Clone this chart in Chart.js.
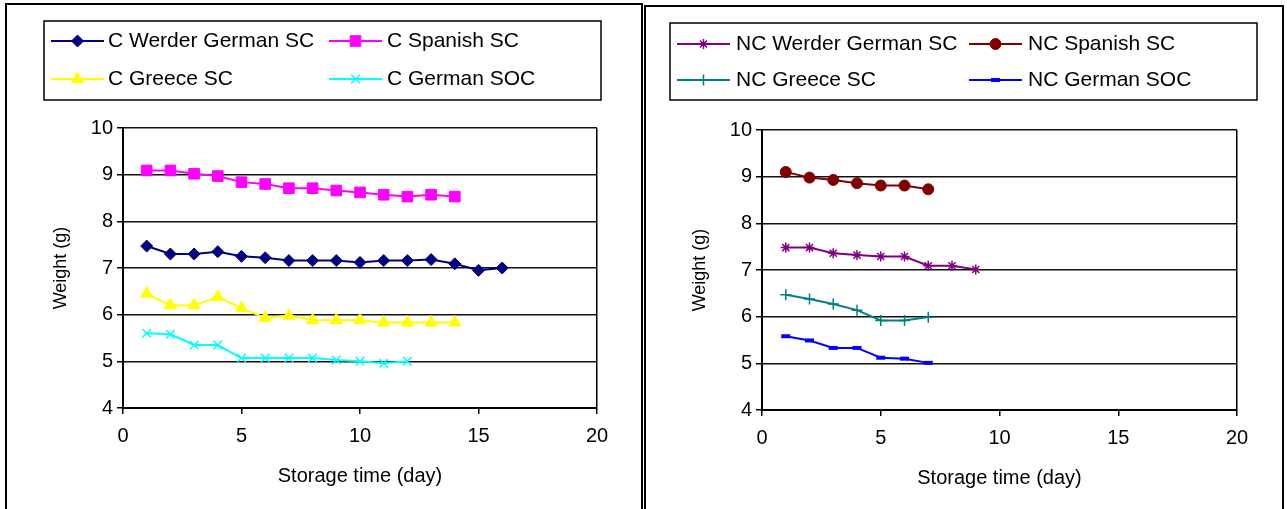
<!DOCTYPE html>
<html>
<head>
<meta charset="utf-8">
<title>Weight during storage</title>
<script src="https://cdn.jsdelivr.net/npm/chart.js@4.4.1/dist/chart.umd.min.js"></script>
<style>
  html, body { margin: 0; padding: 0; background: #fff; overflow: hidden; }
  body { width: 1287px; height: 509px; position: relative; }
  .panel { position: absolute; border: 2px solid #000; border-bottom: none; box-sizing: border-box; }
  #panel-c  { left: 5px;   top: 3px; width: 638px; height: 530px; }
  #panel-nc { left: 644px; top: 5px; width: 640px; height: 530px; }
  canvas { position: absolute; top: 0; }
  #chart-c  { left: 0; }
  #chart-nc { left: 643px; }
</style>
</head>
<body>
<div class="panel" id="panel-c"></div>
<div class="panel" id="panel-nc"></div>
<canvas id="chart-c" width="643" height="509"></canvas>
<canvas id="chart-nc" width="644" height="509"></canvas>
<script>
// --- data ---
const storageDays = [1, 2, 3, 4, 5, 6, 7, 8, 9, 10, 11, 12, 13, 14, 15, 16];
const xTickValues = [0, 5, 10, 15, 20];
const yTickValues = [4, 5, 6, 7, 8, 9, 10];

// C series
const cWerderGerman = [7.47, 7.3, 7.3, 7.35, 7.25, 7.22, 7.16, 7.16, 7.16, 7.12, 7.16, 7.16, 7.18, 7.09, 6.95, 7.0];
const cSpanish      = [9.09, 9.09, 9.02, 8.97, 8.84, 8.8, 8.71, 8.71, 8.66, 8.62, 8.57, 8.53, 8.57, 8.53];
const cGreece       = [6.45, 6.2, 6.2, 6.38, 6.14, 5.93, 5.98, 5.88, 5.88, 5.88, 5.83, 5.83, 5.83, 5.83];
const cGermanSOC    = [5.6, 5.58, 5.35, 5.35, 5.07, 5.07, 5.07, 5.07, 5.03, 5.0, 4.96, 5.0];

// NC series
const ncWerderGerman = [7.48, 7.48, 7.36, 7.32, 7.29, 7.29, 7.09, 7.09, 7.01];
const ncSpanish      = [9.1, 8.98, 8.93, 8.86, 8.81, 8.81, 8.73];
const ncGreece       = [6.47, 6.38, 6.27, 6.14, 5.92, 5.92, 5.99];
const ncGermanSOC    = [5.58, 5.49, 5.33, 5.33, 5.12, 5.1, 5.01];

const FONT = '"Liberation Sans", Arial, sans-serif';

/**
 * 日数と値の配列から点列を作る
 */
function toPoints(values) {
  return values.map((v, i) => ({ x: storageDays[i], y: v }));
}

/**
 * 系列定義
 */
function series(label, values, color, pointStyle, pointRadius, pointBorderWidth = 1) {
  return {
    label,
    data: toPoints(values),
    borderColor: color,
    backgroundColor: color,
    pointBackgroundColor: color,
    pointBorderColor: color,
    borderWidth: 2,
    pointStyle,
    pointRadius,
    pointHoverRadius: pointRadius,
    pointBorderWidth,
    tension: 0,
    fill: false
  };
}

/**
 * 枠付き凡例（2列×2行）
 */
const boxLegend = {
  id: 'boxLegend',
  afterDraw(chart, args, opts) {
    const { ctx } = chart;
    const { box, cols, rows, sample } = opts;
    ctx.save();
    ctx.strokeStyle = '#000';
    ctx.lineWidth = 1.5;
    ctx.strokeRect(box.x, box.y, box.w, box.h);
    ctx.font = '21px ' + FONT;
    ctx.textBaseline = 'middle';
    ctx.textAlign = 'left';

    chart.data.datasets.forEach((ds, i) => {
      const col = cols[i % 2];
      const y = rows[Math.floor(i / 2)];
      const cx = col.x + sample / 2;

      ctx.strokeStyle = ds.borderColor;
      ctx.lineWidth = ds.borderWidth;
      ctx.beginPath();
      ctx.moveTo(col.x, y);
      ctx.lineTo(col.x + sample, y);
      ctx.stroke();

      ctx.fillStyle = ds.pointBackgroundColor;
      ctx.strokeStyle = ds.pointBorderColor;
      ctx.lineWidth = ds.pointBorderWidth;
      if (Chart.helpers && Chart.helpers.drawPoint) {
        Chart.helpers.drawPoint(ctx, {
          pointStyle: ds.pointStyle,
          radius: ds.pointRadius,
          rotation: 0,
          borderWidth: ds.pointBorderWidth
        }, cx, y);
      }

      ctx.fillStyle = '#000';
      ctx.fillText(ds.label, col.text, y);
    });
    ctx.restore();
  }
};

/**
 * 軸・レイアウト共通オプション
 */
function buildOptions(layout, legend) {
  return {
    responsive: false,
    animation: false,
    events: [],
    layout: { padding: { top: layout.top, right: layout.right, left: 0, bottom: 0 } },
    scales: {
      x: {
        type: 'linear',
        min: 0,
        max: 20,
        afterBuildTicks: scale => { scale.ticks = xTickValues.map(v => ({ value: v })); },
        afterFit: scale => { scale.height = layout.xHeight; },
        border: { display: true, color: '#000', width: 2 },
        grid: {
          color: c => (c.tick && c.tick.value === 20 ? '#000' : 'rgba(0,0,0,0)'),
          tickColor: '#000',
          lineWidth: 1.5,
          tickLength: 6
        },
        ticks: { color: '#000', font: { family: FONT, size: 20 }, padding: 10, maxRotation: 0 },
        title: {
          display: true,
          text: 'Storage time (day)',
          color: '#000',
          font: { family: FONT, size: 20 },
          padding: { top: 0, bottom: layout.xTitlePad }
        }
      },
      y: {
        min: 4,
        max: 10,
        afterBuildTicks: scale => { scale.ticks = yTickValues.map(v => ({ value: v })); },
        afterFit: scale => { scale.width = layout.yWidth; },
        border: { display: true, color: '#000', width: 2 },
        grid: { color: '#111', tickColor: '#000', lineWidth: 1.5, tickLength: 6 },
        ticks: { color: '#000', font: { family: FONT, size: 20 }, padding: 4 },
        title: {
          display: true,
          text: 'Weight (g)',
          color: '#000',
          font: { family: FONT, size: 18 },
          padding: { top: layout.yTitlePad, bottom: 0 }
        }
      }
    },
    plugins: {
      legend: { display: false },
      tooltip: { enabled: false },
      boxLegend: legend
    }
  };
}

// 左：C
new Chart(document.getElementById('chart-c').getContext('2d'), {
  type: 'line',
  data: {
    datasets: [
      series('C Werder German SC', cWerderGerman, '#000080', 'rectRot', 6),
      series('C Spanish SC', cSpanish, '#FF00FF', 'rect', 7.5),
      series('C Greece SC', cGreece, '#FFFF00', 'triangle', 7),
      series('C German SOC', cGermanSOC, '#00FFFF', 'crossRot', 6, 1.5)
    ]
  },
  options: buildOptions(
    { top: 128, right: 46, xHeight: 101, yWidth: 123, xTitlePad: 21, yTitlePad: 50 },
    {
      box: { x: 44, y: 21, w: 557, h: 79 },
      cols: [{ x: 51, text: 108 }, { x: 329, text: 387 }],
      rows: [41, 79],
      sample: 53
    }
  ),
  plugins: [boxLegend]
});

// 右：NC
new Chart(document.getElementById('chart-nc').getContext('2d'), {
  type: 'line',
  data: {
    datasets: [
      series('NC Werder German SC', ncWerderGerman, '#800080', 'star', 5, 1.5),
      series('NC Spanish SC', ncSpanish, '#800000', 'circle', 5.5),
      series('NC Greece SC', ncGreece, '#008080', 'cross', 5.5, 1.5),
      series('NC German SOC', ncGermanSOC, '#0000FF', 'line', 4.5, 4)
    ]
  },
  options: buildOptions(
    { top: 130, right: 50, xHeight: 99, yWidth: 119, xTitlePad: 19, yTitlePad: 46 },
    {
      box: { x: 27, y: 23, w: 587, h: 77 },
      cols: [{ x: 34, text: 93 }, { x: 326, text: 385 }],
      rows: [44, 80],
      sample: 53
    }
  ),
  plugins: [boxLegend]
});
</script>
</body>
</html>
